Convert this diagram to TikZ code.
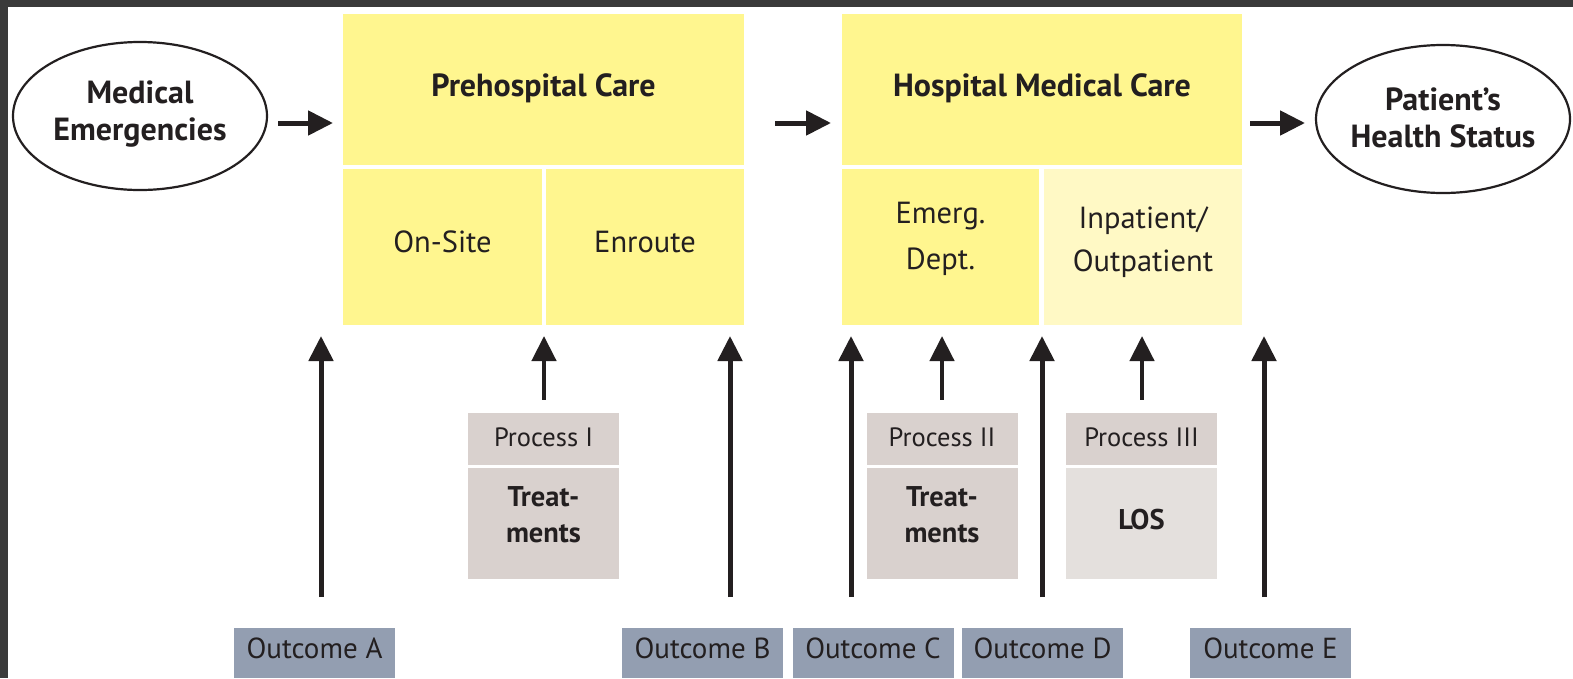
\documentclass[tikz,border=0pt]{standalone}
\usepackage{fontspec}
\setmainfont{PT Sans}
\usetikzlibrary{arrows.meta,shapes.geometric}
\definecolor{frameC}{HTML}{3A3A3A}
\definecolor{txtC}{HTML}{231F20}
\definecolor{yelC}{HTML}{FFF68F}
\definecolor{yelL}{HTML}{FFF9C5}
\definecolor{procC}{HTML}{D9D1CE}
\definecolor{losC}{HTML}{E4E0DD}
\definecolor{outC}{HTML}{939EB1}
\begin{document}
\begin{tikzpicture}[x=1pt,y=-1pt,
  box/.style={rectangle,inner sep=0pt,draw=none},
  ybox/.style={box,fill=yelC},
  bigtxt/.style={font=\fontsize{32}{37}\selectfont\bfseries,text=txtC,align=center,inner sep=0pt},
  midtxt/.style={font=\fontsize{30.5}{46}\selectfont,text=txtC,align=center,inner sep=0pt},
  prtxt/.style={font=\fontsize{26.5}{30}\selectfont,text=txtC,align=center,inner sep=0pt},
  prbtxt/.style={font=\fontsize{28.5}{36}\selectfont\bfseries,text=txtC,align=center,inner sep=0pt},
  outtxt/.style={font=\fontsize{29}{32}\selectfont,text=txtC,align=center,inner sep=0pt},
  oval/.style={ellipse,draw=txtC,line width=2.2pt,fill=white,minimum width=254pt,minimum height=148pt,inner sep=0pt},
  arr/.style={draw=txtC,line width=5pt,-{Triangle[length=25pt,width=24pt]}},
  parr/.style={draw=txtC,line width=4.5pt,-{Triangle[length=25pt,width=24pt]}},
  obox/.style={box,fill=outC,minimum width=161pt,minimum height=50pt},
  phead/.style={box,fill=procC,minimum width=151pt,minimum height=52pt},
  pbody/.style={box,minimum width=151pt,minimum height=111pt}
]
\useasboundingbox (0,0) rectangle (1573,678);
\fill[white] (0,0) rectangle (1573,678);
% frame
\fill[frameC] (0,0) rectangle (1573,7);
\fill[frameC] (0,0) rectangle (8,678);

% ellipses
\node[oval] (me) at (140,116) {};
\node[bigtxt] (meT) at (140,114) {Medical\\Emergencies};
\node[oval] (phs) at (1443,119) {};
\node[bigtxt] (phsT) at (1443,118) {Patient’s\\Health Status};

% prehospital
\node[ybox,minimum width=401pt,minimum height=151pt] (pre) at (543.5,89.5) {};
\node[bigtxt] (preT) at (543.5,88) {Prehospital Care};
\node[ybox,minimum width=199pt,minimum height=156pt] (onsite) at (442.5,247) {};
\node[midtxt] (onsiteT) at (442.5,242) {On-Site};
\node[ybox,minimum width=198pt,minimum height=156pt] (enroute) at (645,247) {};
\node[midtxt] (enrouteT) at (645,242) {Enroute};

% hospital
\node[ybox,minimum width=400pt,minimum height=151pt] (hos) at (1042,89.5) {};
\node[bigtxt] (hosT) at (1042,88) {Hospital Medical Care};
\node[ybox,minimum width=197pt,minimum height=156pt] (ed) at (940.5,247) {};
\node[midtxt] (edT) at (940.5,239) {Emerg.\\Dept.};
\node[box,fill=yelL,minimum width=198pt,minimum height=156pt] (inp) at (1143,247) {};
\node[midtxt,font=\fontsize{30.5}{43}\selectfont] (inpT) at (1143,242) {Inpatient/\\Outpatient};

% processes
\node[phead] (p1h) at (543.5,439) {};
\node[prtxt] (p1hT) at (543.5,437) {Process I};
\node[pbody,fill=procC] (p1b) at (543.5,523.5) {};
\node[prbtxt] (p1bT) at (543.5,515) {Treat-\\ments};
\node[phead] (p2h) at (942,439) {};
\node[prtxt] (p2hT) at (942,437) {Process II};
\node[pbody,fill=procC] (p2b) at (942,523.5) {};
\node[prbtxt] (p2bT) at (942,515) {Treat-\\ments};
\node[phead] (p3h) at (1141.5,439) {};
\node[prtxt] (p3hT) at (1141.5,437) {Process III};
\node[pbody,fill=losC] (p3b) at (1141.5,523.5) {};
\node[prbtxt] (p3bT) at (1141.5,520) {LOS};

% outcomes
\node[obox] (oA) at (314.5,653) {};
\node[outtxt] (oAT) at (314.5,648) {Outcome A};
\node[obox] (oB) at (702.5,653) {};
\node[outtxt] (oBT) at (702.5,648) {Outcome B};
\node[obox] (oC) at (873,653) {};
\node[outtxt] (oCT) at (873,648) {Outcome C};
\node[obox] (oD) at (1042.5,653) {};
\node[outtxt] (oDT) at (1042.5,648) {Outcome D};
\node[obox] (oE) at (1270.5,653) {};
\node[outtxt] (oET) at (1270.5,648) {Outcome E};

% horizontal arrows
\coordinate (h1s) at (278,123); \coordinate (h1e) at (333,123);
\coordinate (h2s) at (775,123); \coordinate (h2e) at (831,123);
\coordinate (h3s) at (1250,123); \coordinate (h3e) at (1305,123);
\draw[arr] (h1s) -- (h1e);
\draw[arr] (h2s) -- (h2e);
\draw[arr] (h3s) -- (h3e);

% outcome arrows
\coordinate (aS) at (321,597); \coordinate (aE) at (321,336);
\coordinate (bS) at (730,597); \coordinate (bE) at (730,336);
\coordinate (cS) at (851,597); \coordinate (cE) at (851,336);
\coordinate (dS) at (1042,597); \coordinate (dE) at (1042,336);
\coordinate (eS) at (1264,597); \coordinate (eE) at (1264,336);
\draw[arr] (aS) -- (aE);
\draw[arr] (bS) -- (bE);
\draw[arr] (cS) -- (cE);
\draw[arr] (dS) -- (dE);
\draw[arr] (eS) -- (eE);

% process arrows
\coordinate (p1E) at (544,336);
\coordinate (p2E) at (942,336);
\coordinate (p3E) at (1142,336);
\draw[parr] ([yshift=13pt]p1h.north -| p1E) -- (p1E);
\draw[parr] ([yshift=13pt]p2h.north -| p2E) -- (p2E);
\draw[parr] ([yshift=13pt]p3h.north -| p3E) -- (p3E);
\end{tikzpicture}
\end{document}
